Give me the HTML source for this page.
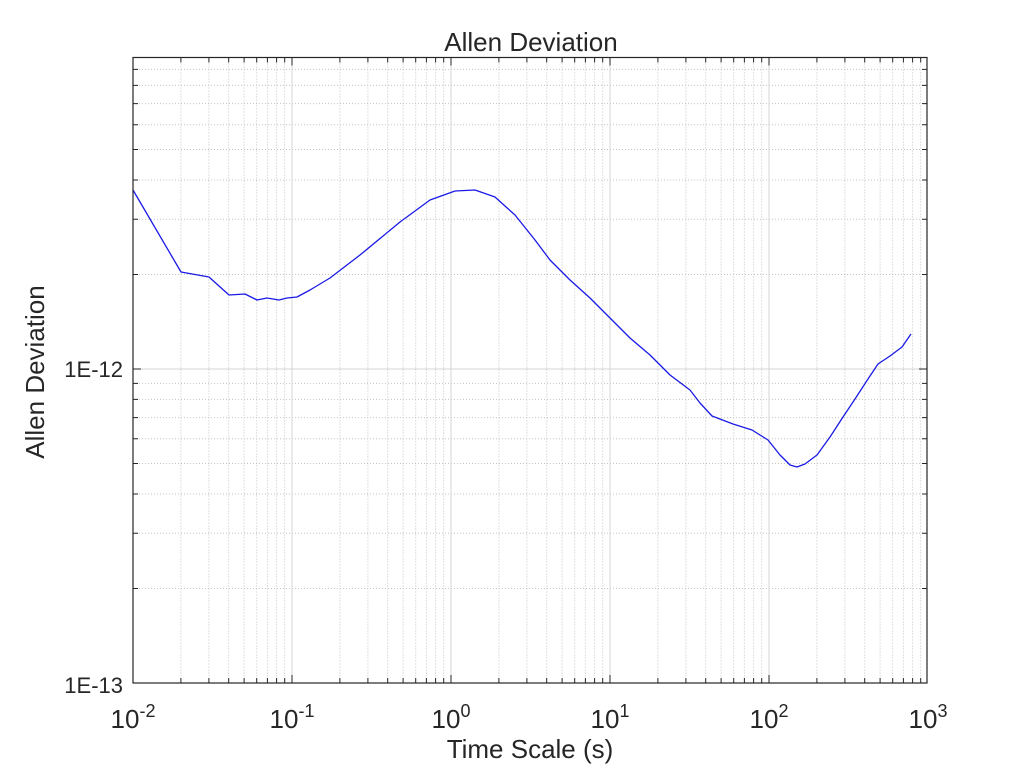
<!DOCTYPE html>
<html><head><style>body{margin:0;background:#fff}svg{display:block}text{font-family:"Liberation Sans",Arial,sans-serif;fill:#262626}</style></head>
<body>
<svg width="1024" height="768" xmlns="http://www.w3.org/2000/svg">
<path fill="none" stroke="#c4c4c4" stroke-width="1" stroke-dasharray="1,2" d="M180.9 57.5V683M208.9 57.5V683M228.7 57.5V683M244.1 57.5V683M256.7 57.5V683M267.4 57.5V683M276.6 57.5V683M284.7 57.5V683M339.9 57.5V683M367.9 57.5V683M387.7 57.5V683M403.1 57.5V683M415.7 57.5V683M426.4 57.5V683M435.6 57.5V683M443.7 57.5V683M498.9 57.5V683M526.9 57.5V683M546.7 57.5V683M562.1 57.5V683M574.7 57.5V683M585.4 57.5V683M594.6 57.5V683M602.7 57.5V683M657.9 57.5V683M685.9 57.5V683M705.7 57.5V683M721.1 57.5V683M733.7 57.5V683M744.4 57.5V683M753.6 57.5V683M761.7 57.5V683M816.9 57.5V683M844.9 57.5V683M864.7 57.5V683M880.1 57.5V683M892.7 57.5V683M903.4 57.5V683M912.6 57.5V683M920.7 57.5V683
M133 588.5H927M133 533.2H927M133 494H927M133 463.5H927M133 438.7H927M133 417.6H927M133 399.4H927M133 383.4H927M133 274.5H927M133 219.2H927M133 180H927M133 149.5H927M133 124.7H927M133 103.6H927M133 85.4H927M133 69.4H927"/>
<path fill="none" stroke="#d4d4d4" stroke-width="1" d="M292 57.5V683M451 57.5V683M610 57.5V683M769 57.5V683M133 369H927"/>
<path fill="none" stroke="#262626" stroke-width="1" d="M180.9 683v-5M208.9 683v-5M228.7 683v-5M244.1 683v-5M256.7 683v-5M267.4 683v-5M276.6 683v-5M284.7 683v-5M339.9 683v-5M367.9 683v-5M387.7 683v-5M403.1 683v-5M415.7 683v-5M426.4 683v-5M435.6 683v-5M443.7 683v-5M498.9 683v-5M526.9 683v-5M546.7 683v-5M562.1 683v-5M574.7 683v-5M585.4 683v-5M594.6 683v-5M602.7 683v-5M657.9 683v-5M685.9 683v-5M705.7 683v-5M721.1 683v-5M733.7 683v-5M744.4 683v-5M753.6 683v-5M761.7 683v-5M816.9 683v-5M844.9 683v-5M864.7 683v-5M880.1 683v-5M892.7 683v-5M903.4 683v-5M912.6 683v-5M920.7 683v-5M292 683v-8M451 683v-8M610 683v-8M769 683v-8
M180.9 57.5v5M208.9 57.5v5M228.7 57.5v5M244.1 57.5v5M256.7 57.5v5M267.4 57.5v5M276.6 57.5v5M284.7 57.5v5M339.9 57.5v5M367.9 57.5v5M387.7 57.5v5M403.1 57.5v5M415.7 57.5v5M426.4 57.5v5M435.6 57.5v5M443.7 57.5v5M498.9 57.5v5M526.9 57.5v5M546.7 57.5v5M562.1 57.5v5M574.7 57.5v5M585.4 57.5v5M594.6 57.5v5M602.7 57.5v5M657.9 57.5v5M685.9 57.5v5M705.7 57.5v5M721.1 57.5v5M733.7 57.5v5M744.4 57.5v5M753.6 57.5v5M761.7 57.5v5M816.9 57.5v5M844.9 57.5v5M864.7 57.5v5M880.1 57.5v5M892.7 57.5v5M903.4 57.5v5M912.6 57.5v5M920.7 57.5v5M292 57.5v8M451 57.5v8M610 57.5v8M769 57.5v8
M133 588.5h5M133 533.2h5M133 494h5M133 463.5h5M133 438.7h5M133 417.6h5M133 399.4h5M133 383.4h5M133 274.5h5M133 219.2h5M133 180h5M133 149.5h5M133 124.7h5M133 103.6h5M133 85.4h5M133 69.4h5M133 369h8
M927 588.5h-5M927 533.2h-5M927 494h-5M927 463.5h-5M927 438.7h-5M927 417.6h-5M927 399.4h-5M927 383.4h-5M927 274.5h-5M927 219.2h-5M927 180h-5M927 149.5h-5M927 124.7h-5M927 103.6h-5M927 85.4h-5M927 69.4h-5M927 369h-8"/>
<polyline fill="none" stroke="#1a1ae6" stroke-width="1.3" stroke-linejoin="round" points="133,190 181,272 209,277 229,295 245,294 257,300 267,298 279,300 287,298 297,297 310,290 330,278 360,255 400,222 430,200 455,191 475,190 495,197 515,215 535,240 550,260 570,280 590,298 610,318 630,338 650,355 670,375 690,390 700,403 712,416 733,424 752,430 768,440 780,455 790,465 797,467 805,464 817,455 830,437 843,417 855,399 868,379 878,364 890,356 902,347 911,334"/>
<rect x="133" y="57.5" width="794" height="625.5" fill="none" stroke="#262626" stroke-width="1.2"/>
<g font-size="26">
<text x="133" y="728" text-anchor="middle">10<tspan dy="-11" font-size="18">-2</tspan></text>
<text x="292" y="728" text-anchor="middle">10<tspan dy="-11" font-size="18">-1</tspan></text>
<text x="451" y="728" text-anchor="middle">10<tspan dy="-11" font-size="18">0</tspan></text>
<text x="610" y="728" text-anchor="middle">10<tspan dy="-11" font-size="18">1</tspan></text>
<text x="769" y="728" text-anchor="middle">10<tspan dy="-11" font-size="18">2</tspan></text>
<text x="928" y="728" text-anchor="middle">10<tspan dy="-11" font-size="18">3</tspan></text>
</g>
<g font-size="22">
<text x="123" y="377" text-anchor="end">1E-12</text>
<text x="123" y="693" text-anchor="end">1E-13</text>
</g>
<text x="530" y="758" text-anchor="middle" font-size="26">Time Scale (s)</text>
<text x="531" y="51" text-anchor="middle" font-size="26" fill="#000">Allen Deviation</text>
<text transform="translate(44,372) rotate(-90)" text-anchor="middle" font-size="26">Allen Deviation</text>
</svg>
</body></html>
